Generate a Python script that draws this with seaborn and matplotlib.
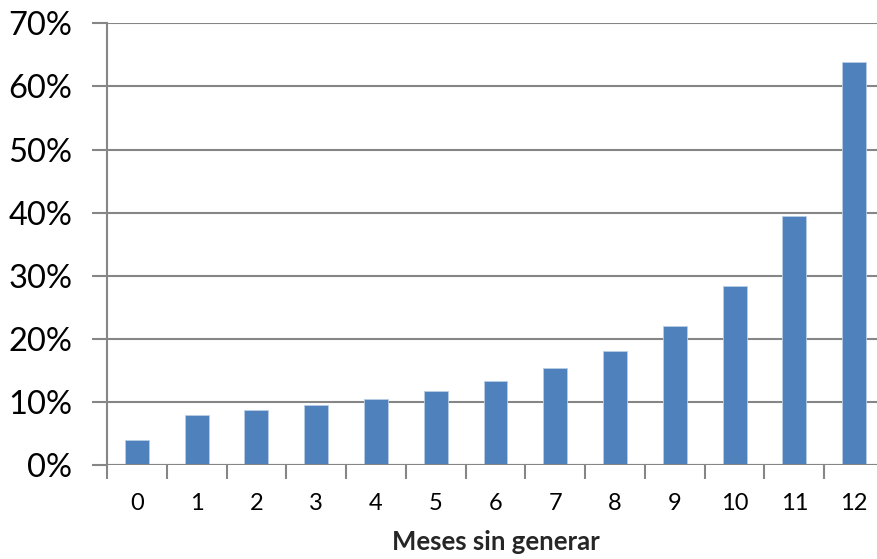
import matplotlib
matplotlib.use("Agg")
import matplotlib.pyplot as plt
import seaborn as sns
import pandas as pd
from matplotlib.ticker import PercentFormatter, FixedLocator

categories = ["0", "1", "2", "3", "4", "5", "6", "7", "8", "9", "10", "11", "12"]
values = [4.0, 7.9, 8.7, 9.5, 10.45, 11.7, 13.3, 15.3, 18.1, 22.1, 28.4, 39.5, 63.8]
x_label = "Meses sin generar"

df = pd.DataFrame({"mes": categories, "pct": [v / 100 for v in values]})

sns.set_theme(style="white")
plt.rcParams["font.family"] = ["Lato", "DejaVu Sans"]

fig = plt.figure(figsize=(8.77, 5.59), dpi=100)
ax = fig.add_axes([107 / 877, 94 / 559, (884 - 107) / 877, (465 - 23.3) / 559])

grid_c = "#868686"
sns.barplot(data=df, x="mes", y="pct", order=categories, color="#4F81BD",
            saturation=1, width=0.4, ax=ax, zorder=3, edgecolor="#B9CDE5", linewidth=0.6)

ax.set_ylim(0, 0.7)
ax.set_xlim(-0.5, 12.5)
ax.set_yticks([i / 10 for i in range(8)])
ax.yaxis.set_major_formatter(PercentFormatter(1.0, decimals=0))
ax.yaxis.grid(True, color=grid_c, linewidth=1.5, zorder=0)
ax.set_axisbelow(True)

for s in ["top", "right", "bottom"]:
    ax.spines[s].set_visible(False)
ax.spines["left"].set_color(grid_c)
ax.spines["left"].set_linewidth(1.5)
ax.axhline(0, color=grid_c, linewidth=1.5, zorder=4)

ax.tick_params(axis="y", which="major", length=11, width=1.5, color=grid_c,
               labelsize=23.5, labelcolor="black", pad=14, left=True)
ax.tick_params(axis="x", which="major", length=0, labelsize=17, labelcolor="black", pad=20)
ax.xaxis.set_minor_locator(FixedLocator([i - 0.5 for i in range(14)]))
ax.tick_params(axis="x", which="minor", length=10, width=1.5, color=grid_c, bottom=True, direction="out")

ax.set_xlabel(x_label, fontsize=18.5, fontweight="bold", labelpad=12)
ax.set_ylabel("")

fig.savefig("out.png", dpi=100)
